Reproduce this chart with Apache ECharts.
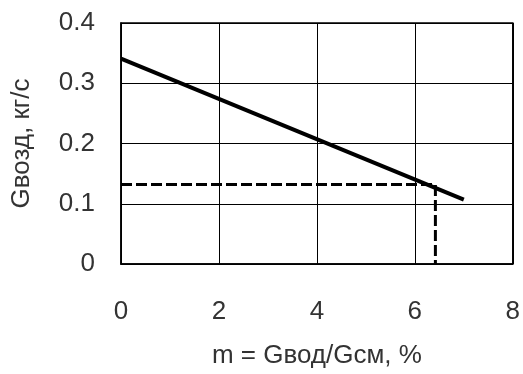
<!DOCTYPE html>
<html>
<head>
<meta charset="utf-8">
<script src="https://cdn.jsdelivr.net/npm/echarts@6/dist/echarts.min.js"></script>
<style>
html,body{margin:0;padding:0;background:#fff;}
#c{width:523px;height:374px;}
</style>
</head>
<body>
<div id="c"></div>
<script>
var solidX = [0, 7];
var solidY = [0.341, 0.107];
var dashX = [0, 6.42, 6.42];
var dashY = [0.132, 0.132, 0];
var xTitle = 'm = Gвод/Gсм, %';
var yTitle = 'Gвозд, кг/с';

function pairs(xs, ys){ return xs.map(function(x,i){ return [x, ys[i]]; }); }

var font = 'Liberation Sans, Arial, sans-serif';
var txt = '#333';
var chart = echarts.init(document.getElementById('c'), null, {renderer:'canvas'});
chart.setOption({
  animation:false,
  backgroundColor:'#fff',
  grid:{left:121, right:9, top:23, bottom:109, show:true, borderColor:'#000', borderWidth:1.5, backgroundColor:'transparent'},
  xAxis:{
    type:'value', min:0, max:8, interval:2,
    name:xTitle, nameLocation:'middle', nameGap:79,
    nameTextStyle:{fontFamily:font, fontSize:26, color:txt},
    axisLine:{show:true, lineStyle:{color:'#000', width:1.5}},
    axisTick:{show:false},
    axisLabel:{margin:35, fontFamily:font, fontSize:26, color:txt},
    splitLine:{show:true, lineStyle:{color:'#000', width:1}}
  },
  yAxis:{
    type:'value', min:0, max:0.4, interval:0.1,
    name:yTitle, nameLocation:'middle', nameGap:86,
    nameTextStyle:{fontFamily:font, fontSize:26, color:txt},
    axisLine:{show:true, lineStyle:{color:'#000', width:1.5}},
    axisTick:{show:false},
    axisLabel:{margin:26, fontFamily:font, fontSize:26, color:txt},
    splitLine:{show:true, lineStyle:{color:'#000', width:1}}
  },
  series:[
    {type:'line', data:pairs(solidX, solidY), symbol:'none', lineStyle:{color:'#000', width:4}},
    {type:'line', data:pairs(dashX, dashY), symbol:'none', lineStyle:{color:'#000', width:3, type:[11,4]}}
  ]
});
</script>
</body>
</html>
